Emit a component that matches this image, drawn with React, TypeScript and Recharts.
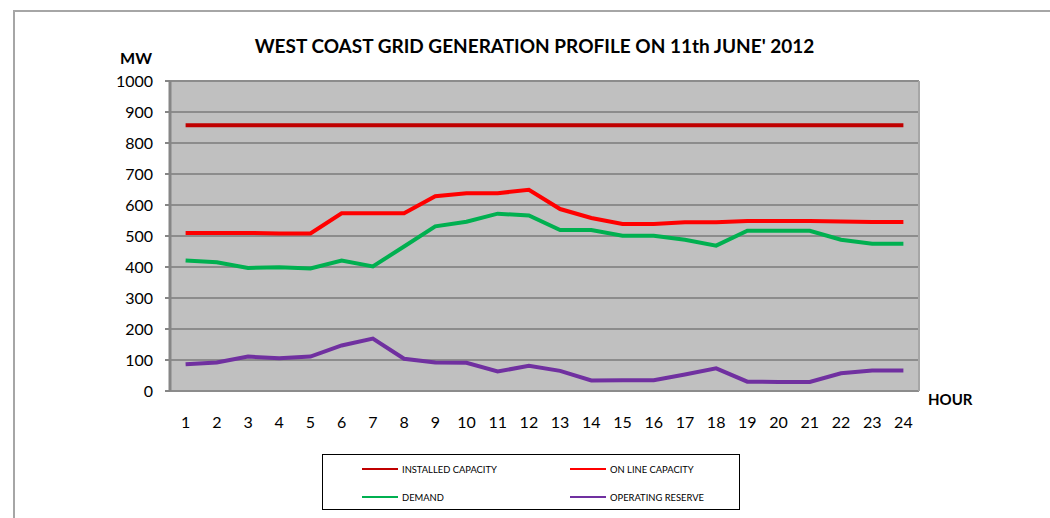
import { LineChart, Line, XAxis, YAxis, CartesianGrid, ReferenceLine } from 'recharts'

const hours = [1, 2, 3, 4, 5, 6, 7, 8, 9, 10, 11, 12, 13, 14, 15, 16, 17, 18, 19, 20, 21, 22, 23, 24]
const installedCapacity = [857, 857, 857, 857, 857, 857, 857, 857, 857, 857, 857, 857, 857, 857, 857, 857, 857, 857, 857, 857, 857, 857, 857, 857]
const onlineCapacity = [510, 510, 510, 508, 508, 573, 573, 573, 628, 638, 638, 649, 587, 558, 539, 539, 544, 544, 548, 548, 548, 547, 545, 545]
const demand = [421, 415, 397, 399, 395, 421, 402, 466, 531, 546, 572, 566, 519, 519, 501, 501, 488, 469, 517, 517, 517, 488, 475, 475]
const operatingReserve = [86, 92, 111, 106, 111, 147, 169, 104, 92, 91, 63, 81, 65, 34, 35, 35, 53, 73, 30, 29, 29, 57, 66, 66]
const yTicks = [0, 100, 200, 300, 400, 500, 600, 700, 800, 900, 1000]

const series = [
  { key: 'installed', name: 'INSTALLED CAPACITY', color: '#c00000' },
  { key: 'online', name: 'ON LINE CAPACITY', color: '#ff0000' },
  { key: 'demand', name: 'DEMAND', color: '#00b050' },
  { key: 'reserve', name: 'OPERATING RESERVE', color: '#7030a0' },
]

const data = hours.map((h, i) => ({
  hour: h,
  installed: installedCapacity[i],
  online: onlineCapacity[i],
  demand: demand[i],
  reserve: operatingReserve[i],
}))

const FONT = 'Lato, "Open Sans", sans-serif'
const AXIS = '#868686'

export default function App() {
  const tickBounds = hours.map((h) => h - 0.5).concat(hours.length + 0.5)

  return (
    <div style={{ position: 'absolute', left: 0, top: 0, width: 1050, height: 518, background: '#fff', fontFamily: FONT }}>
      {/* chart frame */}
      <div style={{ position: 'absolute', left: 13, top: 10, width: 1037, height: 508, borderTop: '2px solid #a6a6a6', borderLeft: '2px solid #a6a6a6', boxSizing: 'border-box' }} />

      <div style={{ position: 'absolute', left: 0, top: 34, width: 1069, textAlign: 'center', fontWeight: 700, fontSize: 19, lineHeight: '24px', color: '#000' }}>
        WEST COAST GRID GENERATION PROFILE ON 11th JUNE' 2012
      </div>

      <div style={{ position: 'absolute', left: 0, top: 0 }}>
        <LineChart width={1050} height={518} data={data} margin={{ top: 81, right: 131, bottom: 97, left: 110 }}>
          <CartesianGrid xAxisId="h" vertical={false} fill="#c0c0c0" stroke="#8c8c8c" strokeWidth={2} />
          <XAxis
            xAxisId="m"
            dataKey="hour"
            type="number"
            domain={[0.5, 24.5]}
            ticks={tickBounds}
            height={0}
            tick={() => <g />}
            tickSize={5}
            tickLine={{ stroke: AXIS, strokeWidth: 3 }}
            axisLine={{ stroke: AXIS, strokeWidth: 3 }}
          />
          <XAxis
            xAxisId="h"
            dataKey="hour"
            type="number"
            domain={[0.5, 24.5]}
            ticks={hours}
            height={30}
            axisLine={false}
            tickLine={false}
            tickSize={6}
            tickMargin={20}
            tick={{ fill: '#000', fontSize: 16, fontFamily: FONT }}
            label={{
              content: ({ viewBox }: any) => (
                <text x={viewBox.x + viewBox.width + 9} y={viewBox.y + 14} fontWeight={700} fontSize={15} fontFamily={FONT} fill="#000">
                  HOUR
                </text>
              ),
            }}
          />
          <YAxis
            domain={[0, 1000]}
            ticks={yTicks}
            width={60}
            interval={0}
            tickSize={5}
            tickMargin={12}
            tickLine={{ stroke: AXIS, strokeWidth: 2 }}
            axisLine={{ stroke: AXIS, strokeWidth: 3 }}
            tick={{ fill: '#000', fontSize: 16, fontFamily: FONT }}
            label={{
              content: ({ viewBox }: any) => (
                <text x={viewBox.x + 26} y={viewBox.y - 17} textAnchor="middle" fontWeight={700} fontSize={16} fontFamily={FONT} fill="#000">
                  MW
                </text>
              ),
            }}
          />
          <ReferenceLine xAxisId="h" x={24.5} stroke="#a6a6a6" strokeWidth={2} />
          {series.map((s) => (
            <Line
              key={s.key}
              xAxisId="h"
              type="linear"
              dataKey={s.key}
              name={s.name}
              stroke={s.color}
              strokeWidth={4}
              dot={false}
              activeDot={false}
              isAnimationActive={false}
            />
          ))}
        </LineChart>
      </div>

      {/* legend */}
      <div
        style={{
          position: 'absolute',
          left: 322,
          top: 454,
          width: 418,
          height: 56,
          border: '1.5px solid #000',
          boxSizing: 'border-box',
          display: 'grid',
          gridTemplateColumns: '208px 208px',
          gridAutoRows: 28,
          paddingLeft: 39,
        }}
      >
        {series.map((s) => (
          <div key={s.key} style={{ display: 'flex', alignItems: 'center', fontSize: 9.4, color: '#000' }}>
            <div style={{ width: 36, height: 2, background: s.color, marginRight: 4, flexShrink: 0 }} />
            {s.name}
          </div>
        ))}
      </div>
    </div>
  )
}
